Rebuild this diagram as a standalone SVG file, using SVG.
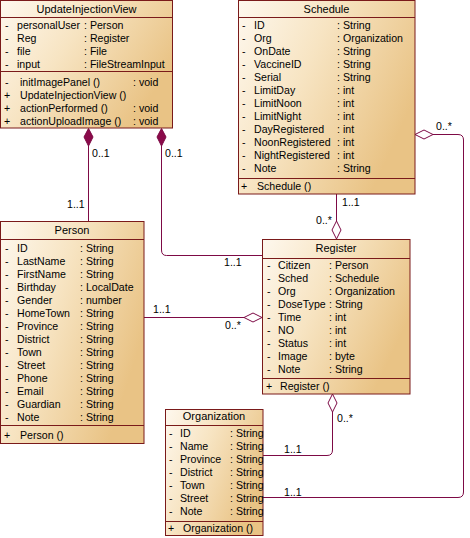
<svg xmlns="http://www.w3.org/2000/svg" width="470" height="538" viewBox="0 0 470 538">
<defs>
<linearGradient id="g" x1="0" y1="0" x2="1" y2="0.5">
<stop offset="0" stop-color="#fef8ee"/>
<stop offset="0.45" stop-color="#f7e4c2"/>
<stop offset="1" stop-color="#e9c385"/>
</linearGradient>
<style>
text{font-family:"Liberation Sans",Arial,sans-serif;font-size:10.6px;fill:#000}
.t{text-anchor:middle;font-size:11px}
.box{fill:url(#g);stroke:#7a1a1a;stroke-width:1}
.sep{stroke:#7a1a1a;stroke-width:1;fill:none}
.c{stroke:#7d0a45;stroke-width:1;fill:none}
.fd{fill:#8a0a4a;stroke:#7d0a45;stroke-width:1}
.hd{fill:#fff;stroke:#7d0a45;stroke-width:1}
</style>
</defs>
<g id="connectors">
<path class="c" d="M88.5,146 V221"/>
<polygon class="fd" points="88.5,128.5 93,137 88.5,146 84,137"/>
<path class="c" d="M161.5,146 V250 Q161.5,255.5 166.5,255.5 H262"/>
<polygon class="fd" points="161.5,128.5 166,137 161.5,146 157,137"/>
<path class="c" d="M144,317.5 H244"/>
<polygon class="hd" points="262,317.5 253,313 244,317.5 253,322"/>
<path class="c" d="M336.5,194 V221"/>
<polygon class="hd" points="336.5,239 341,230 336.5,221 332,230"/>
<path class="c" d="M433,134.5 H458 Q463.5,134.5 463.5,140 V492 Q463.5,497.5 458,497.5 H263"/>
<polygon class="hd" points="415,134.5 424,130 433,134.5 424,139"/>
<path class="c" d="M332.5,412 V450 Q332.5,455.5 327,455.5 H263"/>
<polygon class="hd" points="332.5,394 337,403 332.5,412 328,403"/>
<text x="92" y="157">0..1</text>
<text x="67" y="208">1..1</text>
<text x="165" y="157">0..1</text>
<text x="224" y="266">1..1</text>
<text x="153" y="313">1..1</text>
<text x="225" y="329">0..*</text>
<text x="342" y="206">1..1</text>
<text x="316" y="224">0..*</text>
<text x="436" y="130">0..*</text>
<text x="337" y="422">0..*</text>
<text x="284" y="453">1..1</text>
<text x="284" y="496">1..1</text>
</g>
<g id="UpdateInjectionView">
<rect class="box" x="0.5" y="0.5" width="172" height="127.5"/>
<path class="sep" d="M0.5,17.5 H172.5 M0.5,71.5 H172.5"/>
<text class="t" x="86.5" y="13">UpdateInjectionView</text>
<text x="5" y="29">-</text><text x="17" y="29">personalUser</text><text x="84" y="29">: Person</text>
<text x="5" y="42">-</text><text x="17" y="42">Reg</text><text x="84" y="42">: Register</text>
<text x="5" y="55">-</text><text x="17" y="55">file</text><text x="84" y="55">: File</text>
<text x="5" y="68">-</text><text x="17" y="68">input</text><text x="84" y="68">: FileStreamInput</text>
<text x="5" y="86">-</text><text x="20" y="86">initImagePanel ()</text><text x="133" y="86">: void</text>
<text x="4" y="99">+</text><text x="20" y="99">UpdateInjectionView ()</text>
<text x="4" y="112">+</text><text x="20" y="112">actionPerformed ()</text><text x="133" y="112">: void</text>
<text x="4" y="125">+</text><text x="20" y="125">actionUploadImage ()</text><text x="133" y="125">: void</text>
</g>
<g id="Schedule">
<rect class="box" x="238.5" y="0.5" width="176.5" height="193.5"/>
<path class="sep" d="M238.5,17.5 H415 M238.5,178.5 H415"/>
<text class="t" x="326.5" y="13">Schedule</text>
<text x="242" y="29">-</text><text x="254" y="29">ID</text><text x="337" y="29">: String</text>
<text x="242" y="42">-</text><text x="254" y="42">Org</text><text x="337" y="42">: Organization</text>
<text x="242" y="55">-</text><text x="254" y="55">OnDate</text><text x="337" y="55">: String</text>
<text x="242" y="68">-</text><text x="254" y="68">VaccineID</text><text x="337" y="68">: String</text>
<text x="242" y="81">-</text><text x="254" y="81">Serial</text><text x="337" y="81">: String</text>
<text x="242" y="94">-</text><text x="254" y="94">LimitDay</text><text x="337" y="94">: int</text>
<text x="242" y="107">-</text><text x="254" y="107">LimitNoon</text><text x="337" y="107">: int</text>
<text x="242" y="120">-</text><text x="254" y="120">LimitNight</text><text x="337" y="120">: int</text>
<text x="242" y="133">-</text><text x="254" y="133">DayRegistered</text><text x="337" y="133">: int</text>
<text x="242" y="146">-</text><text x="254" y="146">NoonRegistered</text><text x="337" y="146">: int</text>
<text x="242" y="159">-</text><text x="254" y="159">NightRegistered</text><text x="337" y="159">: int</text>
<text x="242" y="172">-</text><text x="254" y="172">Note</text><text x="337" y="172">: String</text>
<text x="241" y="190">+</text><text x="257" y="190">Schedule ()</text>
</g>
<g id="Person">
<rect class="box" x="0.5" y="221.5" width="143.5" height="222"/>
<path class="sep" d="M0.5,239.5 H144 M0.5,425.5 H144"/>
<text class="t" x="72" y="234">Person</text>
<text x="5" y="252">-</text><text x="17" y="252">ID</text><text x="80" y="252">: String</text>
<text x="5" y="265">-</text><text x="17" y="265">LastName</text><text x="80" y="265">: String</text>
<text x="5" y="278">-</text><text x="17" y="278">FirstName</text><text x="80" y="278">: String</text>
<text x="5" y="291">-</text><text x="17" y="291">Birthday</text><text x="80" y="291">: LocalDate</text>
<text x="5" y="304">-</text><text x="17" y="304">Gender</text><text x="80" y="304">: number</text>
<text x="5" y="317">-</text><text x="17" y="317">HomeTown</text><text x="80" y="317">: String</text>
<text x="5" y="330">-</text><text x="17" y="330">Province</text><text x="80" y="330">: String</text>
<text x="5" y="343">-</text><text x="17" y="343">District</text><text x="80" y="343">: String</text>
<text x="5" y="356">-</text><text x="17" y="356">Town</text><text x="80" y="356">: String</text>
<text x="5" y="369">-</text><text x="17" y="369">Street</text><text x="80" y="369">: String</text>
<text x="5" y="382">-</text><text x="17" y="382">Phone</text><text x="80" y="382">: String</text>
<text x="5" y="395">-</text><text x="17" y="395">Email</text><text x="80" y="395">: String</text>
<text x="5" y="408">-</text><text x="17" y="408">Guardian</text><text x="80" y="408">: String</text>
<text x="5" y="421">-</text><text x="17" y="421">Note</text><text x="80" y="421">: String</text>
<text x="4" y="439">+</text><text x="20" y="439">Person ()</text>
</g>
<g id="Register">
<rect class="box" x="262.5" y="239.5" width="147.5" height="154.5"/>
<path class="sep" d="M262.5,258.5 H410 M262.5,378.5 H410"/>
<text class="t" x="336" y="252">Register</text>
<text x="267" y="269">-</text><text x="278" y="269">Citizen</text><text x="329" y="269">: Person</text>
<text x="267" y="282">-</text><text x="278" y="282">Sched</text><text x="329" y="282">: Schedule</text>
<text x="267" y="295">-</text><text x="278" y="295">Org</text><text x="329" y="295">: Organization</text>
<text x="267" y="308">-</text><text x="278" y="308">DoseType</text><text x="329" y="308">: String</text>
<text x="267" y="321">-</text><text x="278" y="321">Time</text><text x="329" y="321">: int</text>
<text x="267" y="334">-</text><text x="278" y="334">NO</text><text x="329" y="334">: int</text>
<text x="267" y="347">-</text><text x="278" y="347">Status</text><text x="329" y="347">: int</text>
<text x="267" y="360">-</text><text x="278" y="360">Image</text><text x="329" y="360">: byte</text>
<text x="267" y="373">-</text><text x="278" y="373">Note</text><text x="329" y="373">: String</text>
<text x="266" y="390">+</text><text x="280" y="390">Register ()</text>
</g>
<g id="Organization">
<rect class="box" x="165.5" y="409.5" width="97.5" height="126"/>
<path class="sep" d="M165.5,425.5 H263 M165.5,521.5 H263"/>
<text class="t" x="214" y="420">Organization</text>
<text x="169" y="437">-</text><text x="180" y="437">ID</text><text x="230" y="437">: String</text>
<text x="169" y="450">-</text><text x="180" y="450">Name</text><text x="230" y="450">: String</text>
<text x="169" y="463">-</text><text x="180" y="463">Province</text><text x="230" y="463">: String</text>
<text x="169" y="476">-</text><text x="180" y="476">District</text><text x="230" y="476">: String</text>
<text x="169" y="489">-</text><text x="180" y="489">Town</text><text x="230" y="489">: String</text>
<text x="169" y="502">-</text><text x="180" y="502">Street</text><text x="230" y="502">: String</text>
<text x="169" y="515">-</text><text x="180" y="515">Note</text><text x="230" y="515">: String</text>
<text x="168" y="532">+</text><text x="183" y="532">Organization ()</text>
</g>
</svg>
